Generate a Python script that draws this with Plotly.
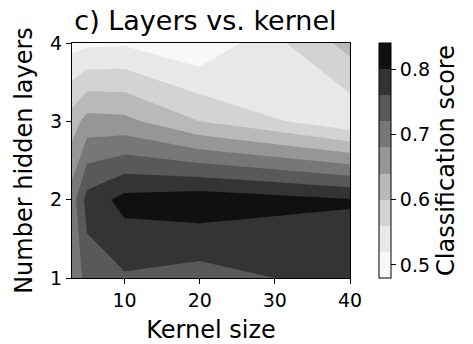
import plotly.graph_objects as go

# ---- data ----
kernel_sizes = [3, 5, 10, 20, 40]
hidden_layers = [1, 2, 3, 4]

score_1_layer = [0.680, 0.740, 0.755, 0.742, 0.778]
score_2_layers = [0.700, 0.775, 0.814, 0.825, 0.803]
score_3_layers = [0.620, 0.655, 0.651, 0.600, 0.530]
score_4_layers = [0.505, 0.512, 0.515, 0.485, 0.615]

level_start = 0.52
level_end = 0.80
level_step = 0.04
cbar_min = 0.48
cbar_max = 0.84
cbar_ticks = [0.5, 0.6, 0.7, 0.8]
x_ticks = [10, 20, 30, 40]
y_ticks = [1, 2, 3, 4]

# Greys colours of the 9 bands (0.48-0.52 ... 0.80-0.84)
band_colors = ["#f8f8f8", "#e8e8e8", "#d3d3d3", "#b9b9b9", "#969696",
               "#777777", "#595959", "#343434", "#101010"]

z = [score_1_layer, score_2_layers, score_3_layers, score_4_layers]
n = len(band_colors)
# smooth scale whose nodes sit on the band mid-values used by the contour fill
contour_scale = [[i / (n - 1), c] for i, c in enumerate(band_colors)]
# stepped scale for the colour bar
step_scale = []
for i, c in enumerate(band_colors):
    step_scale.append([i / n, c])
    step_scale.append([(i + 1) / n, c])

FONT = "DejaVu Sans"

fig = go.Figure()
fig.add_trace(
    go.Contour(
        x=kernel_sizes,
        y=hidden_layers,
        z=z,
        colorscale=contour_scale,
        contours=dict(start=level_start, end=level_end, size=level_step,
                      coloring="fill", showlines=False),
        line=dict(width=0, smoothing=0),
        showscale=False,
        hoverinfo="x+y+z",
    )
)
# colour bar (no visible marks)
fig.add_trace(
    go.Scatter(
        x=[None, None], y=[None, None], mode="markers", showlegend=False,
        hoverinfo="skip",
        marker=dict(
            color=[cbar_min, cbar_max], cmin=cbar_min, cmax=cbar_max,
            colorscale=step_scale, showscale=True,
            colorbar=dict(
                thickness=12, len=1, lenmode="fraction", y=0.5, yanchor="middle",
                x=1.106, xanchor="left", xpad=0, ypad=0,
                outlinecolor="black", outlinewidth=1,
                tickvals=cbar_ticks, ticktext=[f"{t:.1f}" for t in cbar_ticks],
                ticks="outside", ticklen=5, tickcolor="black",
                tickfont=dict(family=FONT, size=19, color="black"),
                title=dict(text="Classification score", side="right",
                           font=dict(family=FONT, size=24, color="black")),
            ),
        ),
    )
)

axis_common = dict(
    showline=True, mirror=True, linecolor="black", linewidth=1,
    ticks="outside", ticklen=5, tickcolor="black", showgrid=False, zeroline=False,
    automargin=False,
    tickfont=dict(family=FONT, size=19, color="black"),
)

fig.update_layout(
    width=473, height=344,
    margin=dict(l=72, r=120, t=43, b=66),
    paper_bgcolor="white", plot_bgcolor="white",
    font=dict(family=FONT, color="black"),
    title=dict(text="c) Layers vs. kernel", x=0.48, xref="paper", xanchor="center",
               y=1 - 21 / 344, yref="container", yanchor="middle",
               font=dict(family=FONT, size=27, color="black")),
    xaxis=dict(range=[3, 40], tickvals=x_ticks,
               title=dict(text="Kernel size", font=dict(family=FONT, size=24), standoff=11),
               **axis_common),
    yaxis=dict(range=[1, 4], tickvals=y_ticks,
               title=dict(text="Number hidden layers", font=dict(family=FONT, size=24), standoff=10),
               **axis_common),
)

fig.write_html("out.html", config={"displayModeBar": False},
               post_script="document.body.style.margin='0px';")
